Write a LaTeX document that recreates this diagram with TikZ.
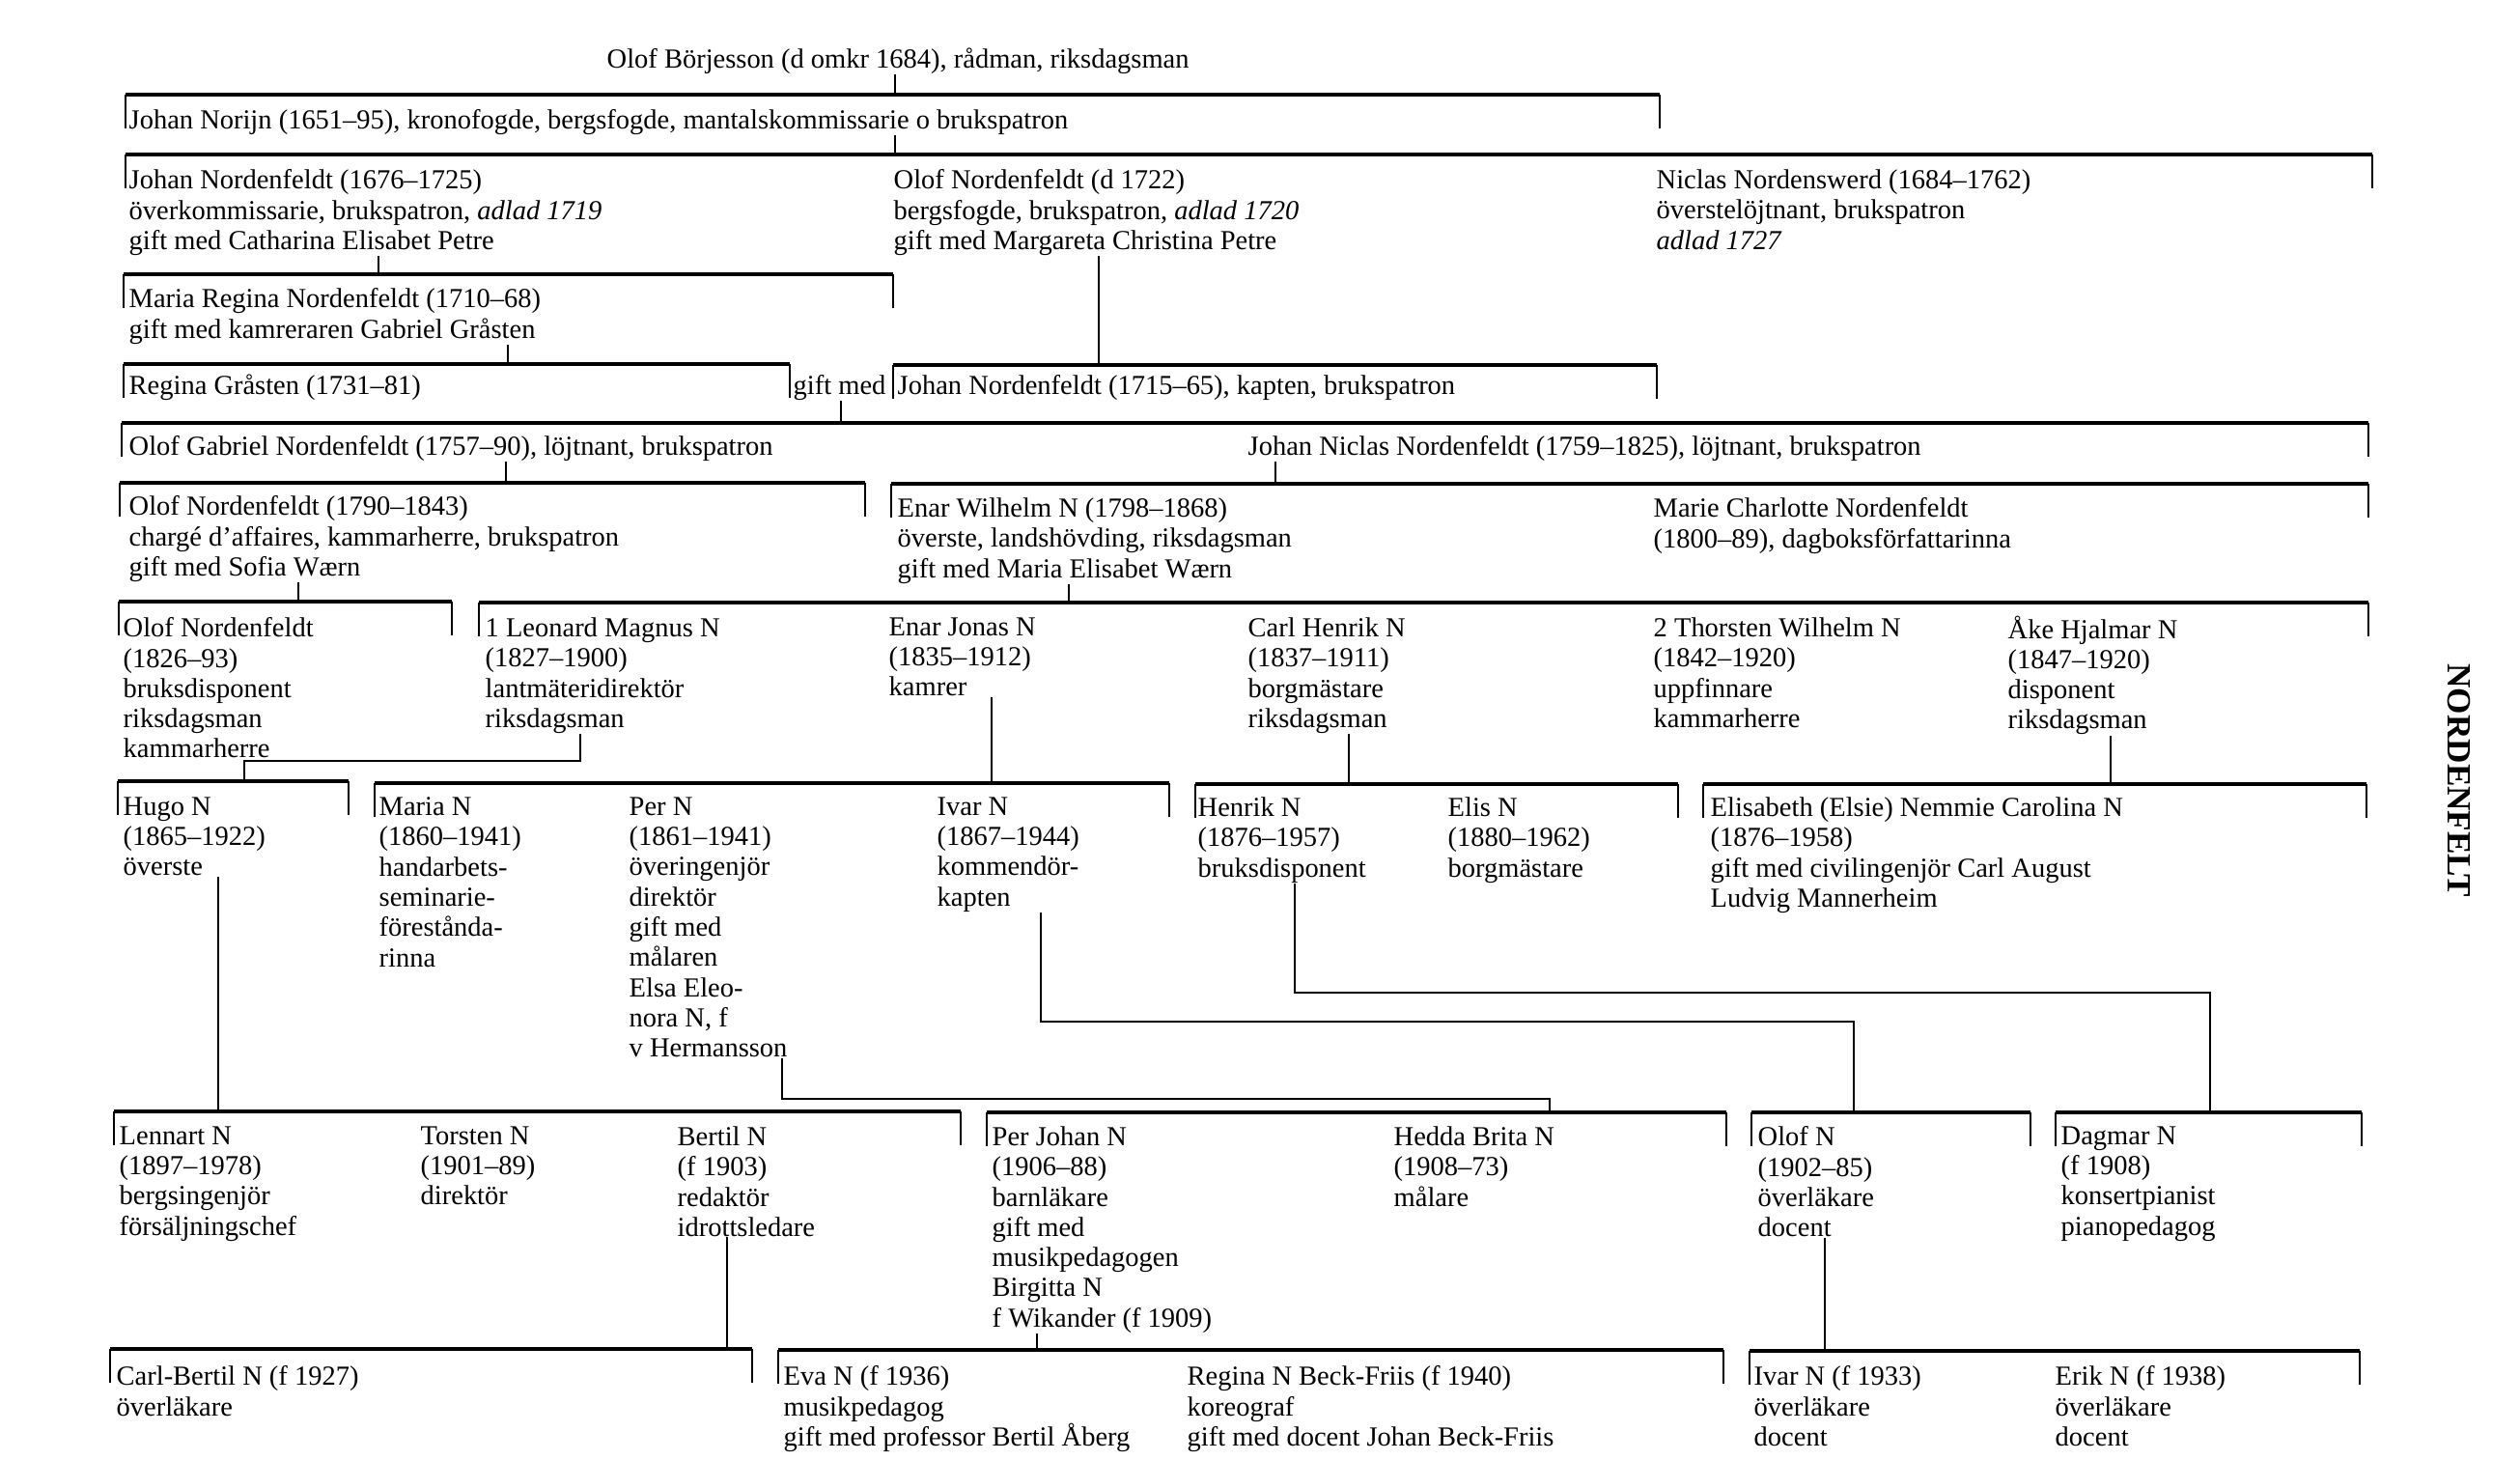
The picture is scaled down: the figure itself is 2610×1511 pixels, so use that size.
\documentclass[tikz,border=0pt]{standalone}
\usepackage{fontspec}
\setmainfont{Liberation Serif}
\usetikzlibrary{calc}
\tikzset{
  pers/.style={anchor=north west, inner sep=0pt, align=left,
    font=\fontsize{8.1}{8.9}\selectfont, execute at begin node={\rule{0pt}{7pt}}},
  bar/.style={line width=1.1pt},
  tick/.style={line width=0.7pt},
  desc/.style={line width=0.7pt},
}

\begin{document}
\begin{tikzpicture}[x=0.01cm, y=-0.01cm]
  \useasboundingbox (0,0) rectangle (2610,1511);

  \node[pers] (borj) at (628,45) {Olof Börjesson (d omkr 1684), rådman, riksdagsman};
  \node[pers] (norijn) at (133,108) {Johan Norijn (1651--95), kronofogde, bergsfogde, mantalskommissarie o brukspatron};
  \node[pers] (johanA) at (133,175) {Johan Nordenfeldt (1676--1725)\\överkommissarie, brukspatron, \textit{adlad 1719}\\gift med Catharina Elisabet Petre};
  \node[pers] (olofA) at (925,175) {Olof Nordenfeldt (d 1722)\\bergsfogde, brukspatron, \textit{adlad 1720}\\gift med Margareta Christina Petre};
  \node[pers] (niclas) at (1715,175) {Niclas Nordenswerd (1684--1762)\\överstelöjtnant, brukspatron\\\textit{adlad 1727}};
  \node[pers] (mariaR) at (133,298) {Maria Regina Nordenfeldt (1710--68)\\gift med kamreraren Gabriel Gråsten};
  \node[pers] (reginaG) at (133,383) {Regina Gråsten (1731--81)};
  \node[pers] (giftmed) at (821,383) {gift med};
  \node[pers] (johanB) at (929,383) {Johan Nordenfeldt (1715--65), kapten, brukspatron};
  \node[pers] (olofG) at (133,446) {Olof Gabriel Nordenfeldt (1757--90), löjtnant, brukspatron};
  \node[pers] (johanN) at (1292,446) {Johan Niclas Nordenfeldt (1759--1825), löjtnant, brukspatron};
  \node[pers] (olofB) at (133,513) {Olof Nordenfeldt (1790--1843)\\chargé d'affaires, kammarherre, brukspatron\\gift med Sofia Wærn};
  \node[pers] (enarW) at (929,515) {Enar Wilhelm N (1798--1868)\\överste, landshövding, riksdagsman\\gift med Maria Elisabet Wærn};
  \node[pers] (marieC) at (1712,515) {Marie Charlotte Nordenfeldt\\(1800--89), dagboksförfattarinna};
  \node[pers] (olofC) at (127,639) {Olof Nordenfeldt\\(1826--93)\\bruksdisponent\\riksdagsman\\kammarherre};
  \node[pers] (leonard) at (502,639) {1 Leonard Magnus N\\(1827--1900)\\lantmäteridirektör\\riksdagsman};
  \node[pers] (enarJ) at (920,639) {Enar Jonas N\\(1835--1912)\\kamrer};
  \node[pers] (carlH) at (1292,639) {Carl Henrik N\\(1837--1911)\\borgmästare\\riksdagsman};
  \node[pers] (thorsten) at (1712,639) {2 Thorsten Wilhelm N\\(1842--1920)\\uppfinnare\\kammarherre};
  \node[pers] (ake) at (2079,637) {Åke Hjalmar N\\(1847--1920)\\disponent\\riksdagsman};
  \node[pers] (hugo) at (127,825) {Hugo N\\(1865--1922)\\överste};
  \node[pers] (mariaN) at (392,825) {Maria N\\(1860--1941)\\handarbets-\\seminarie-\\förestånda-\\rinna};
  \node[pers] (perN) at (651,825) {Per N\\(1861--1941)\\överingenjör\\direktör\\gift med\\målaren\\Elsa Eleo-\\nora N, f\\v Hermansson};
  \node[pers] (ivarN) at (970,825) {Ivar N\\(1867--1944)\\kommendör-\\kapten};
  \node[pers] (henrik) at (1240,825) {Henrik N\\(1876--1957)\\bruksdisponent};
  \node[pers] (elis) at (1499,825) {Elis N\\(1880--1962)\\borgmästare};
  \node[pers] (elsie) at (1771,825) {Elisabeth (Elsie) Nemmie Carolina N\\(1876--1958)\\gift med civilingenjör Carl August\\Ludvig Mannerheim};
  \node[pers] (lennart) at (123,1166) {Lennart N\\(1897--1978)\\bergsingenjör\\försäljningschef};
  \node[pers] (torsten) at (435,1166) {Torsten N\\(1901--89)\\direktör};
  \node[pers] (bertil) at (701,1166) {Bertil N\\(f 1903)\\redaktör\\idrottsledare};
  \node[pers] (perJ) at (1027,1166) {Per Johan N\\(1906--88)\\barnläkare\\gift med\\musikpedagogen\\Birgitta N\\f Wikander (f 1909)};
  \node[pers] (hedda) at (1443,1166) {Hedda Brita N\\(1908--73)\\målare};
  \node[pers] (olofN) at (1820,1166) {Olof N\\(1902--85)\\överläkare\\docent};
  \node[pers] (dagmar) at (2134,1166) {Dagmar N\\(f 1908)\\konsertpianist\\pianopedagog};
  \node[pers] (carlB) at (120,1414) {Carl-Bertil N (f 1927)\\överläkare};
  \node[pers] (eva) at (811,1414) {Eva N (f 1936)\\musikpedagog\\gift med professor Bertil Åberg};
  \node[pers] (reginaB) at (1229,1414) {Regina N Beck-Friis (f 1940)\\koreograf\\gift med docent Johan Beck-Friis};
  \node[pers] (ivarB) at (1816,1414) {Ivar N (f 1933)\\överläkare\\docent};
  \node[pers] (erik) at (2128,1414) {Erik N (f 1938)\\överläkare\\docent};
  \node[rotate=-90, font=\fontsize{10}{12}\selectfont\bfseries] (titel) at (2547,808) {NORDENFELT};

  \foreach \n/\l/\r/\y in {g1/130/1719/98, g2/130/2457/160, g3/128/925/284,
      g4a/128/818/377, g4b/925/1716/378, g5/126/2453/438, g6a/124/896/500,
      g6b/923/2453/501, g7a/123/468/623, g7b/496/2453/624, g8a/122/361/809,
      g8b/388/1211/811, g8c/1238/1738/812, g8d/1764/2451/812, g9a/118/995/1151,
      g9b/1022/1788/1152, g9c/1814/2103/1152, g9d/2129/2446/1152,
      g10a/114/779/1397, g10b/806/1785/1398, g10c/1812/2444/1399} {
    \coordinate (\n-l) at (\l,\y);
    \coordinate (\n-r) at (\r,\y);
    \draw[bar] (\n-l) -- (\n-r);
    \draw[tick] (\n-l) -- ++(0,35) (\n-r) -- ++(0,35);
  }

  \coordinate (j1) at (927,98);
  \coordinate (j2) at (927,160);
  \coordinate (j3) at (392,284);
  \coordinate (j4a) at (526,377);
  \coordinate (j4b) at (1138,378);
  \coordinate (j5) at (871,438);
  \coordinate (j6a) at (524,500);
  \coordinate (j6b) at (1321,501);
  \coordinate (j7a) at (309,623);
  \coordinate (j7b) at (1107,624);
  \coordinate (k8a) at (601,788);
  \coordinate (j8a) at (253,809);
  \coordinate (j8b) at (1027,811);
  \coordinate (j8c) at (1397,812);
  \coordinate (j8d) at (2186,812);
  \coordinate (j9a) at (226,1151);
  \coordinate (k9b) at (810,1138);
  \coordinate (j9b) at (1605,1152);
  \coordinate (k9c) at (1078,1058);
  \coordinate (j9c) at (1920,1152);
  \coordinate (k9d) at (1341,1028);
  \coordinate (j9d) at (2289,1152);
  \coordinate (j10a) at (753,1397);
  \coordinate (j10b) at (1074,1398);
  \coordinate (j10c) at (1890,1399);

  \draw[desc] (borj.south -| j1) -- (j1);
  \draw[desc] (norijn.south -| j2) -- (j2);
  \draw[desc] (johanA.south -| j3) -- (j3);
  \draw[desc] (mariaR.south -| j4a) -- (j4a);
  \draw[desc] (olofA.south -| j4b) -- (j4b);
  \draw[desc] (giftmed.south -| j5) -- (j5);
  \draw[desc] (olofG.south -| j6a) -- (j6a);
  \draw[desc] (johanN.south -| j6b) -- (j6b);
  \draw[desc] (olofB.south -| j7a) -- (j7a);
  \draw[desc] (enarW.south -| j7b) -- (j7b);
  \draw[desc] (leonard.south -| k8a) -- (k8a) -| (j8a);
  \draw[desc] (enarJ.south -| j8b) -- (j8b);
  \draw[desc] (carlH.south -| j8c) -- (j8c);
  \draw[desc] (ake.south -| j8d) -- (j8d);
  \draw[desc] (hugo.south -| j9a) -- (j9a);
  \draw[desc] (perN.south -| k9b) -- (k9b) -| (j9b);
  \draw[desc] (ivarN.south -| k9c) -- (k9c) -| (j9c);
  \draw[desc] (henrik.south -| k9d) -- (k9d) -| (j9d);
  \draw[desc] (bertil.south -| j10a) -- (j10a);
  \draw[desc] (perJ.south -| j10b) -- (j10b);
  \draw[desc] (olofN.south -| j10c) -- (j10c);
\end{tikzpicture}
\end{document}
